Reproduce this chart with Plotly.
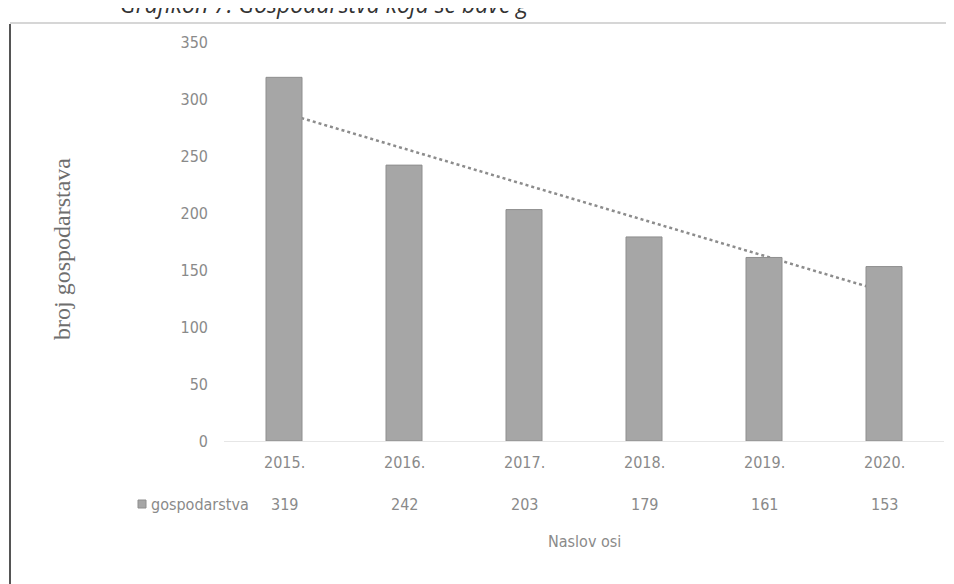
import numpy as np
import plotly.graph_objects as go

years = ["2015.", "2016.", "2017.", "2018.", "2019.", "2020."]
gospodarstva = [319, 242, 203, 179, 161, 153]
y_ticks = [0, 50, 100, 150, 200, 250, 300, 350]
series_name = "gospodarstva"
y_title = "broj gospodarstava"
x_title = "Naslov osi"
caption = "Grafikon 7. Gospodarstva koja se bave g"

# linear trendline (Excel-style) from the values
xi = np.arange(len(gospodarstva))
slope, intercept = np.polyfit(xi, gospodarstva, 1)
trend = list(intercept + slope * xi)

OFF = 8  # page body margin of the browser
W, H = 954 - OFF, 584 - OFF
L, T = 224 - OFF, 42 - OFF
R, B = 10, 143
pw, ph = W - L - R, H - T - B

def px(x):
    return (x - OFF - L) / pw

def py(y):
    return (H - B - (y - OFF)) / ph

FONT = "Liberation Sans Narrow, DejaVu Sans Condensed, Noto Sans, sans-serif"
TXT = "#8a8a8a"

fig = go.Figure()
# trendline on the base axes (drawn below)
fig.add_trace(go.Scatter(
    x=years, y=trend, mode="lines",
    line=dict(color="#8c8c8c", width=2.5, dash="dot"),
    showlegend=False, hoverinfo="skip"))
# bars on overlaying axes (drawn above the trendline)
fig.add_trace(go.Bar(
    x=years, y=gospodarstva, name=series_name, xaxis="x2", yaxis="y2",
    marker=dict(color="#a6a6a6", line=dict(color="#8e8e8e", width=1)),
    width=0.3, showlegend=False))

annotations = []
# data table: category row and value row (x given as category index)
for i, (yr, v) in enumerate(zip(years, gospodarstva)):
    annotations.append(dict(x=i, xref="x", y=py(462), yref="paper", text=yr,
                            xanchor="center", yanchor="middle", showarrow=False,
                            font=dict(family=FONT, size=16, color=TXT)))
    annotations.append(dict(x=i, xref="x", y=py(504), yref="paper", text=str(v),
                            xanchor="center", yanchor="middle", showarrow=False,
                            font=dict(family=FONT, size=16, color=TXT)))
annotations.append(dict(x=px(149), xref="paper", y=py(504), yref="paper", text=series_name,
                        xanchor="left", yanchor="middle", showarrow=False,
                        font=dict(family=FONT, size=16, color=TXT)))
annotations.append(dict(x=px(584), xref="paper", y=py(541), yref="paper", text=x_title,
                        xanchor="center", yanchor="middle", showarrow=False,
                        font=dict(family=FONT, size=16, color=TXT)))
annotations.append(dict(x=px(62), xref="paper", y=py(249), yref="paper", text=y_title,
                        textangle=-90, xanchor="center", yanchor="middle", showarrow=False,
                        font=dict(family="Liberation Serif, DejaVu Serif, serif", size=24, color="#6e6e6e")))
annotations.append(dict(x=px(118), xref="paper", y=py(22), yref="paper", text="<i>" + caption + "</i>",
                        xanchor="left", yanchor="bottom", showarrow=False,
                        font=dict(family="Open Sans, Noto Sans, sans-serif", size=23, color="#333333")))

shapes = [
    # legend key square
    dict(type="rect", xref="paper", yref="paper", x0=px(138), x1=px(146), y0=py(508), y1=py(500),
         fillcolor="#a6a6a6", line=dict(color="#8e8e8e", width=1)),
    # chart frame: left and top border
    dict(type="line", xref="paper", yref="paper", x0=px(10), x1=px(10), y0=py(24), y1=py(600),
         line=dict(color="#555555", width=2)),
    dict(type="line", xref="paper", yref="paper", x0=px(10), x1=px(970), y0=py(23), y1=py(23),
         line=dict(color="#c8c8c8", width=1.5)),
]

xr = [-0.5, len(years) - 0.5]
fig.update_layout(
    width=W, height=H,
    margin=dict(l=L, r=R, t=T, b=B, pad=0),
    paper_bgcolor="white", plot_bgcolor="white",
    annotations=annotations, shapes=shapes,
    xaxis=dict(type="category", range=xr, showticklabels=False,
               showgrid=False, zeroline=False,
               showline=True, linecolor="#e6e6e6", linewidth=1, ticks=""),
    yaxis=dict(range=[0, 350], tickvals=y_ticks, showgrid=False, zeroline=False,
               showline=False, ticks="", ticklabelstandoff=15,
               tickfont=dict(family=FONT, size=16, color=TXT)),
    xaxis2=dict(type="category", range=xr, overlaying="x", visible=False),
    yaxis2=dict(range=[0, 350], overlaying="y", visible=False),
)

fig.write_html("out.html")
